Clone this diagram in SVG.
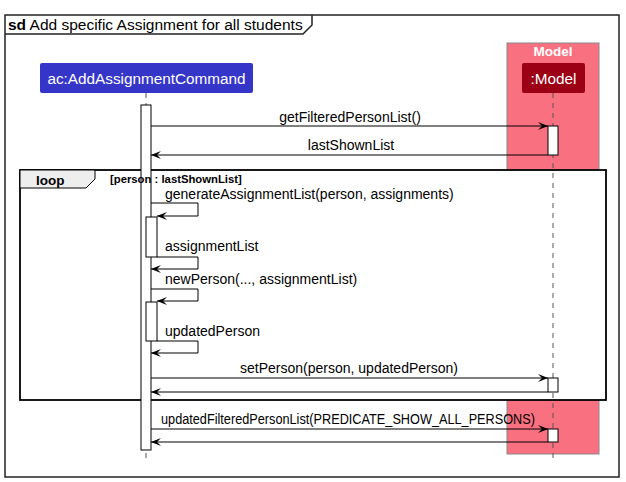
<svg xmlns="http://www.w3.org/2000/svg" width="626" height="482" viewBox="0 0 626 482">
<style>
text{font-family:"Liberation Sans",Arial,sans-serif;fill:#000}
.msg{font-size:14px}
.ctr{text-anchor:middle}
.line{stroke:#000;stroke-width:1;fill:none}
.act{fill:#fff;stroke:#000;stroke-width:1}
.life{stroke:#555;stroke-width:1;stroke-dasharray:5,5;fill:none}
</style>
<defs>
<marker id="ah" markerUnits="userSpaceOnUse" markerWidth="12" markerHeight="10" refX="10" refY="5" orient="auto">
<path d="M0,1 L10,5 L0,9 L4,5 Z" fill="#000"/>
</marker>
</defs>
<g id="frame">
<rect x="5" y="15" width="614" height="462" fill="#fff" stroke="#222" stroke-width="1.5"/>
<path d="M5,34 H303 L312,25 V15" fill="none" stroke="#222" stroke-width="1.5"/>
<text x="8" y="30" font-size="15.5"><tspan font-weight="bold">sd</tspan> Add specific Assignment for all students</text>
</g>
<g id="model-box">
<rect x="507" y="43" width="92" height="411" fill="#F97181" stroke="#888" stroke-width="1"/>
<text x="553" y="56" font-size="13.5" font-weight="bold" class="ctr" style="fill:#fff">Model</text>
</g>
<g id="loop">
<rect x="20" y="170" width="586" height="230" fill="#fff" stroke="#000" stroke-width="1.8"/>
<path d="M20,170 H95 V179 L86,188 H20 Z" fill="#EEEEEE" stroke="#000" stroke-width="1"/>
<text x="36" y="185" font-size="13.5" font-weight="bold">loop</text>
</g>
<g id="lifelines">
<line class="life" x1="146" y1="93" x2="146" y2="460"/>
<line class="life" x1="553" y1="93" x2="553" y2="460"/>
</g>
<g id="participant-ac">
<rect x="40" y="63" width="213" height="30" rx="2" fill="#3535C8"/>
<text x="146.5" y="84" font-size="15.3" class="ctr" style="fill:#fff">ac:AddAssignmentCommand</text>
</g>
<g id="participant-model">
<rect x="522" y="63" width="63" height="30" rx="2" fill="#9C0014"/>
<text x="553.5" y="84" font-size="15.3" class="ctr" style="fill:#fff">:Model</text>
</g>
<g id="activations">
<rect class="act" x="141" y="105" width="10" height="345"/>
<rect class="act" x="146" y="217" width="11" height="40"/>
<rect class="act" x="146" y="302" width="11" height="39"/>
<rect class="act" x="548" y="126" width="10" height="29"/>
<rect class="act" x="548" y="378" width="10" height="14"/>
<rect class="act" x="548" y="429" width="10" height="13"/>
</g>
<text x="110" y="183" font-size="11.3" font-weight="bold">[person : lastShownList]</text>
<g id="connectors">
<line class="line" x1="151" y1="126" x2="548" y2="126" marker-end="url(#ah)"/>
<line class="line" x1="548" y1="155" x2="151" y2="155" marker-end="url(#ah)"/>
<polyline class="line" points="151,203 198,203 198,216 157,216" marker-end="url(#ah)"/>
<polyline class="line" points="157,257 198,257 198,269 151,269" marker-end="url(#ah)"/>
<polyline class="line" points="151,289 198,289 198,301 157,301" marker-end="url(#ah)"/>
<polyline class="line" points="157,341 198,341 198,353 151,353" marker-end="url(#ah)"/>
<line class="line" x1="151" y1="378" x2="548" y2="378" marker-end="url(#ah)"/>
<line class="line" x1="548" y1="392" x2="151" y2="392" marker-end="url(#ah)"/>
<line class="line" x1="151" y1="429" x2="548" y2="429" marker-end="url(#ah)"/>
<line class="line" x1="548" y1="442" x2="151" y2="442" marker-end="url(#ah)"/>
</g>
<g id="labels">
<text class="msg ctr" x="350" y="122">getFilteredPersonList()</text>
<text class="msg ctr" x="351" y="150">lastShownList</text>
<text class="msg" x="165" y="199">generateAssignmentList(person, assignments)</text>
<text class="msg" x="165" y="251">assignmentList</text>
<text class="msg" x="165" y="284">newPerson(..., assignmentList)</text>
<text class="msg" x="165" y="336">updatedPerson</text>
<text class="msg ctr" x="349" y="373">setPerson(person, updatedPerson)</text>
<text class="msg" x="161" y="424" textLength="374" lengthAdjust="spacingAndGlyphs">updatedFilteredPersonList(PREDICATE_SHOW_ALL_PERSONS)</text>
</g>
</svg>
